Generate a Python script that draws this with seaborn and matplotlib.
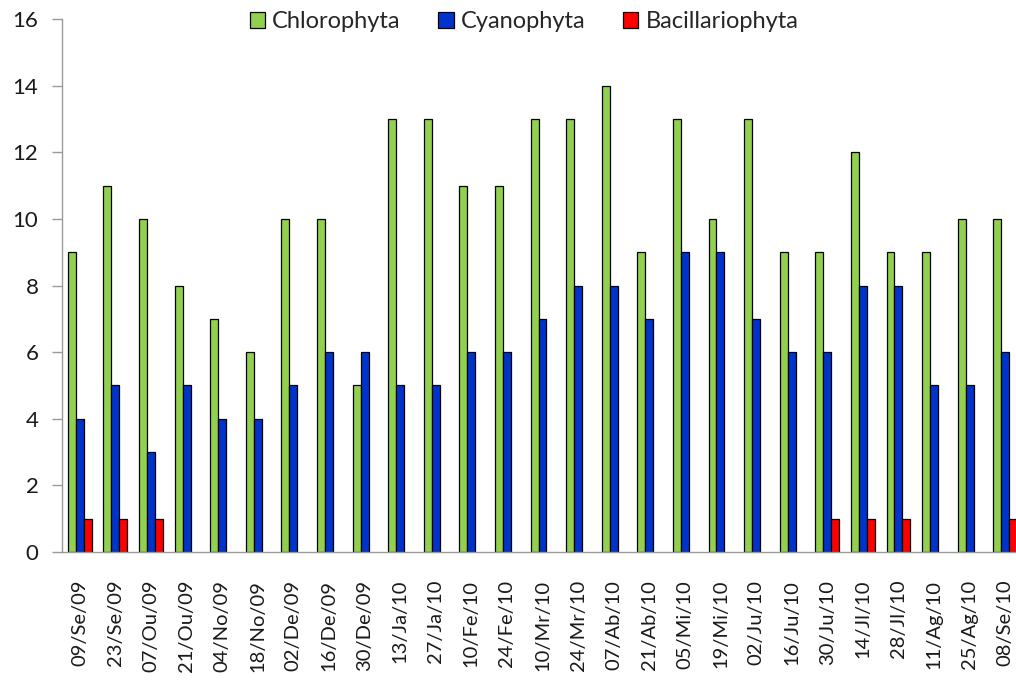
import numpy as np
import pandas as pd
import matplotlib.pyplot as plt
import seaborn as sns
from matplotlib.patches import Patch
from matplotlib.ticker import MultipleLocator

dates = ['09/Se/09', '23/Se/09', '07/Ou/09', '21/Ou/09', '04/No/09', '18/No/09',
         '02/De/09', '16/De/09', '30/De/09', '13/Ja/10', '27/Ja/10', '10/Fe/10',
         '24/Fe/10', '10/Mr/10', '24/Mr/10', '07/Ab/10', '21/Ab/10', '05/Mi/10',
         '19/Mi/10', '02/Ju/10', '16/Ju/10', '30/Ju/10', '14/Jl/10', '28/Jl/10',
         '11/Ag/10', '25/Ag/10', '08/Se/10']
chlorophyta = [9, 11, 10, 8, 7, 6, 10, 10, 5, 13, 13, 11, 11, 13, 13, 14, 9, 13,
               10, 13, 9, 9, 12, 9, 9, 10, 10]
cyanophyta = [4, 5, 3, 5, 4, 4, 5, 6, 6, 5, 5, 6, 6, 7, 8, 8, 7, 9,
              9, 7, 6, 6, 8, 8, 5, 5, 6]
bacillariophyta = [1, 1, 1, 0, 0, 0, 0, 0, 0, 0, 0, 0, 0, 0, 0, 0, 0, 0,
                   0, 0, 0, 1, 1, 1, 0, 0, 1]
groups = ['Chlorophyta', 'Cyanophyta', 'Bacillariophyta']
colors = ['#92D050', '#0033CC', '#FF0000']

df = pd.DataFrame({'date': dates, 'Chlorophyta': chlorophyta,
                   'Cyanophyta': cyanophyta, 'Bacillariophyta': bacillariophyta})
df = df.melt(id_vars='date', var_name='group', value_name='count')

sns.set_style('white')
plt.rcParams['font.family'] = ['Lato', 'DejaVu Sans']

fig = plt.figure(figsize=(10.16, 6.8), dpi=100)
ax = fig.add_axes([62/1016, 128/680, 961/1016, 533/680])

sns.barplot(data=df, x='date', y='count', hue='group', hue_order=groups,
            order=dates, palette=colors, saturation=1, width=0.67, gap=0,
            errorbar=None, edgecolor='black', linewidth=0.9, legend=False, ax=ax)

# hide zero-height bars
for p in ax.patches:
    if p.get_height() == 0:
        p.set_visible(False)

ax.set_xlim(-0.5, len(dates) - 0.5)
ax.set_ylim(0, 16)
ax.yaxis.set_major_locator(MultipleLocator(2))
ax.set_xlabel('')
ax.set_ylabel('')

for s in ['top', 'right']:
    ax.spines[s].set_visible(False)
for s in ['left', 'bottom']:
    ax.spines[s].set_color('#9A9A9A')
    ax.spines[s].set_linewidth(1.0)

ax.set_xticks(np.arange(len(dates)))
ax.set_xticklabels(dates, rotation=90, fontsize=14.5, color='#1a1a1a')
ax.set_xticks(np.arange(len(dates) + 1) - 0.5, minor=True)
ax.tick_params(axis='x', which='major', length=0, pad=20)
ax.tick_params(axis='x', which='minor', length=7, width=1, color='#9A9A9A', direction='out')
ax.tick_params(axis='y', length=7, width=1, color='#9A9A9A', direction='out',
               labelsize=16, labelcolor='#1a1a1a', pad=10, left=True)

handles = [Patch(facecolor=c, edgecolor='black', linewidth=0.9, label=g)
           for g, c in zip(groups, colors)]
fig.legend(handles=handles, loc='center', bbox_to_anchor=(524/1016, 1 - 22/680),
           ncol=3, frameon=False, fontsize=17, handlelength=0.65, handleheight=0.65,
           handletextpad=0.3, columnspacing=1.6, borderaxespad=0)

fig.savefig('out.png', dpi=100)
